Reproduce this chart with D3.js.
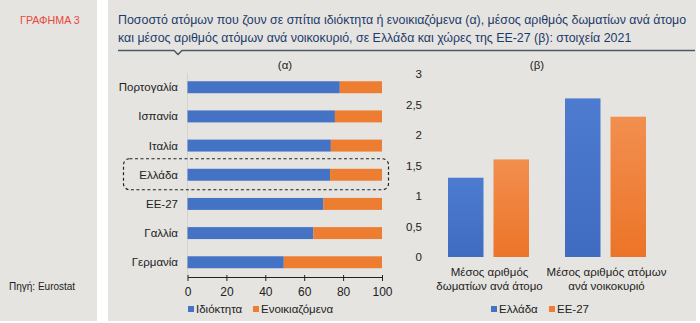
<!DOCTYPE html>
<html><head><meta charset="utf-8">
<script src="https://cdn.jsdelivr.net/npm/d3@7"></script>
<style>body{margin:0;background:#fff}svg{display:block;font-family:"Liberation Sans",Arial,sans-serif}</style>
</head><body>
<svg id="c" width="700" height="323"></svg>
<script>
const countries = ["Πορτογαλία","Ισπανία","Ιταλία","Ελλάδα","ΕΕ-27","Γαλλία","Γερμανία"];
const owned = [78.3, 75.8, 73.7, 73.3, 69.9, 64.7, 49.5];
const rented = owned.map(v => 100 - v);
const seriesA = ["Ιδιόκτητα","Ενοικιαζόμενα"];
const xTicksA = [0,20,40,60,80,100];
const groupsB = [["Μέσος αριθμός","δωματίων ανά άτομο"],["Μέσος αριθμός ατόμων","ανά νοικοκυριό"]];
const greeceB = [1.3, 2.6];
const euB = [1.6, 2.3];
const seriesB = ["Ελλάδα","ΕΕ-27"];
const yTicksB = [0,0.5,1,1.5,2,2.5,3];
const titleLines = ["Ποσοστό ατόμων που ζουν σε σπίτια ιδιόκτητα ή ενοικιαζόμενα (α), μέσος αριθμός δωματίων ανά άτομο",
  "και μέσος αριθμός ατόμων ανά νοικοκυριό, σε Ελλάδα και χώρες της ΕΕ-27 (β): στοιχεία 2021"];

const BLUE="#4472c4", ORANGE="#ed7d31", BG="#e5e4e0", TXT="#222";
const svg = d3.select("#c");
const defs = svg.append("defs");
function grad(id, c1, c2){
  const g = defs.append("linearGradient").attr("id",id).attr("x1",0).attr("x2",0).attr("y1",0).attr("y2",1);
  g.append("stop").attr("offset","0%").attr("stop-color",c1);
  g.append("stop").attr("offset","100%").attr("stop-color",c2);
}
grad("gb","#4d7bd0","#3f6cc0");
grad("go","#f28f4f","#ec7428");

// panels
svg.append("rect").attr("x",0).attr("y",0).attr("width",97).attr("height",321).attr("fill",BG);
svg.append("rect").attr("x",108).attr("y",0).attr("width",588).attr("height",321).attr("fill",BG);

svg.append("text").attr("x",20).attr("y",24).attr("font-size",10.7).attr("fill","#e8473b").text("ΓΡΑΦΗΜΑ 3");
svg.append("text").attr("x",9).attr("y",290).attr("font-size",10).attr("fill",TXT).text("Πηγή: Eurostat");

svg.selectAll(".tl").data(titleLines).join("text").attr("class","tl")
  .attr("x",118).attr("y",(d,i)=>24+i*18).attr("font-size",12.4).attr("fill","#1d3a6b").text(d=>d);
svg.append("path").attr("d","M118,50.5 H174 L178,54.5 L182,50.5 H695").attr("fill","none").attr("stroke","#4a5868").attr("stroke-width",1.5);

// chart A
const xA = d3.scaleLinear().domain([0,100]).range([187.5,382]);
const yA = d3.scaleBand().domain(countries).range([72.5,277]).paddingInner(0.59).paddingOuter(0.3);
svg.append("text").attr("x",285).attr("y",69).attr("text-anchor","middle").attr("font-size",11.5).attr("fill",TXT).text("(α)");
svg.append("line").attr("x1",xA(0)).attr("x2",xA(0)).attr("y1",73).attr("y2",277).attr("stroke","#d4d3cf");
const gA = svg.append("g");
gA.selectAll(".o").data(countries).join("rect").attr("x",xA(0)).attr("y",d=>yA(d))
  .attr("width",(d,i)=>xA(owned[i])-xA(0)).attr("height",yA.bandwidth()).attr("fill",BLUE);
gA.selectAll(".r").data(countries).join("rect").attr("x",(d,i)=>xA(owned[i])).attr("y",d=>yA(d))
  .attr("width",(d,i)=>xA(100)-xA(owned[i])).attr("height",yA.bandwidth()).attr("fill",ORANGE);
gA.selectAll(".lbl").data(countries).join("text").attr("x",178).attr("y",d=>yA(d)+yA.bandwidth()/2+4)
  .attr("text-anchor","end").attr("font-size",11.5).attr("fill",TXT).text(d=>d);
const axA = svg.append("g").attr("transform","translate(0,277)")
  .call(d3.axisBottom(xA).tickValues(xTicksA).tickSize(5).tickSizeOuter(0));
axA.select(".domain").attr("stroke","#222");
axA.selectAll(".tick line").attr("stroke","#222").attr("y1",-2).attr("y2",4);
axA.selectAll("text").attr("font-size",12).attr("fill",TXT).attr("font-family","Liberation Sans, Arial").attr("dy","0.95em");
// dashed box
const gy = yA("Ελλάδα")+yA.bandwidth()/2;
svg.append("rect").attr("x",123.5).attr("y",gy-16).attr("width",265).attr("height",31).attr("rx",6)
  .attr("fill","none").attr("stroke","#222").attr("stroke-width",1.2).attr("stroke-dasharray","3,2.5");
// legend A
const legA = [{x:188,c:BLUE},{x:253,c:ORANGE}];
legA.forEach((l,i)=>{
  svg.append("rect").attr("x",l.x).attr("y",306).attr("width",6).attr("height",6).attr("fill",l.c);
  svg.append("text").attr("x",l.x+8).attr("y",313).attr("font-size",11.5).attr("fill",TXT).text(seriesA[i]);
});

// chart B
const yB = d3.scaleLinear().domain([0,3]).range([257,74]);
const xB = d3.scaleBand().domain([0,1]).range([430,664]);
const xIn = d3.scaleBand().domain(seriesB).range([18,99]).paddingInner(0.22);
svg.append("text").attr("x",537).attr("y",69).attr("text-anchor","middle").attr("font-size",11.5).attr("fill",TXT).text("(β)");
svg.selectAll(".yt").data(yTicksB).join("text").attr("class","yt").attr("x",422).attr("y",d=>yB(d)+4)
  .attr("text-anchor","end").attr("font-size",11.5).attr("fill",TXT).text(d=>String(d).replace(".",","));
const gB = svg.append("g");
[greeceB, euB].forEach((vals,si)=>{
  gB.selectAll(".b"+si).data(vals).join("rect").attr("x",(d,i)=>xB(i)+xIn(seriesB[si]))
    .attr("y",d=>yB(d)).attr("width",xIn.bandwidth()).attr("height",d=>yB(0)-yB(d))
    .attr("fill",si===0?"url(#gb)":"url(#go)");
});
groupsB.forEach((lines,i)=>{
  lines.forEach((t,j)=>{
    svg.append("text").attr("x",xB(i)+xB.bandwidth()/2+1).attr("y",276+j*14).attr("text-anchor","middle")
      .attr("font-size",11.5).attr("fill",TXT).text(t);
  });
});
const legB = [{x:491,c:BLUE},{x:549,c:ORANGE}];
legB.forEach((l,i)=>{
  svg.append("rect").attr("x",l.x).attr("y",306).attr("width",6).attr("height",6).attr("fill",l.c);
  svg.append("text").attr("x",l.x+8).attr("y",313).attr("font-size",11.5).attr("fill",TXT).text(seriesB[i]);
});
</script>
</body></html>
